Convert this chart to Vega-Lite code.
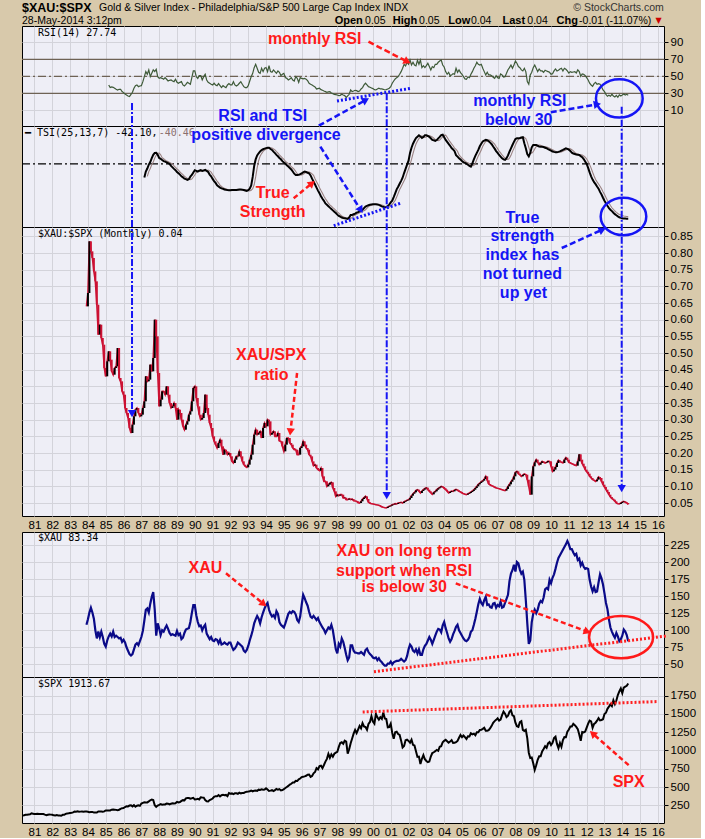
{
"$schema":"https://vega.github.io/schema/vega-lite/v6.json",
"background":"#D8C9AB",
"padding":{"left":18,"top":0,"right":4,"bottom":0},
"autosize":{"type":"pad"},
"spacing":0,
"bounds":"flush",
"resolve":{"scale":{"x":"independent","y":"independent"}},
"config":{"view":{"stroke":"#000000","fill":"#EEEEF6"},"axis":{"gridColor":"#D3D3DA","labelFont":"Liberation Sans","labelFontSize":11.5,"labelColor":"#000000","tickColor":"#000000","domain":false},"text":{"font":"Liberation Sans"}},
"datasets":{"d":[
{"m":4,"s":111},{"m":5,"s":114},{"m":6,"s":122},{"m":7,"s":122},{"m":8,"s":125},{"m":9,"s":127},{"m":10,"s":141},{"m":11,"s":136},
{"m":12,"s":130},{"m":13,"s":131},{"m":14,"s":136},{"m":15,"s":133},{"m":16,"s":133},{"m":17,"s":131},{"m":18,"s":131},{"m":19,"s":123},{"m":20,"s":116},{"m":21,"s":122},{"m":22,"s":126},{"m":23,"s":123},
{"m":24,"s":120},{"m":25,"s":113},{"m":26,"s":112},{"m":27,"s":116},{"m":28,"s":112},{"m":29,"s":110},{"m":30,"s":107},{"m":31,"s":120},{"m":32,"s":120},{"m":33,"s":134},{"m":34,"s":139},{"m":35,"s":141},
{"m":36,"s":145},{"m":37,"s":148},{"m":38,"s":153},{"m":39,"s":164},{"m":40,"s":162},{"m":41,"s":168},{"m":42,"s":163},{"m":43,"s":164},{"m":44,"s":166},{"m":45,"s":164},{"m":46,"s":166},
{"m":47,"s":165,"x":108,"r":0.64},{"m":48,"s":163,"x":116,"r":0.68},{"m":49,"s":157,"x":126,"r":0.835},{"m":50,"s":159,"x":133,"r":0.805},{"m":51,"s":160,"x":126,"r":0.785},{"m":52,"s":151,"x":117,"r":0.745},{"m":53,"s":153,"x":100,"r":0.715},{"m":54,"s":151,"x":88,"r":0.645},{"m":55,"s":167,"x":98,"r":0.555},{"m":56,"s":166,"x":90,"r":0.585},{"m":57,"s":166,"x":98,"r":0.545},{"m":58,"s":163,"x":90,"r":0.525},{"m":59,"s":167,"x":80,"r":0.455},{"m":60,"s":180,"x":76,"r":0.43},{"m":61,"s":181,"x":85,"r":0.475},
{"m":62,"s":181,"x":91,"r":0.505,"i":39.8},{"m":63,"s":180,"x":95,"r":0.48,"i":36.7},{"m":64,"s":190,"x":91,"r":0.445,"i":37.5},{"m":65,"s":192,"x":98,"r":0.435,"i":37},{"m":66,"s":191,"x":90,"r":0.455,"i":35.9},{"m":67,"s":188,"x":92,"r":0.46,"i":34.7},{"m":68,"s":182,"x":90,"r":0.515,"i":33.9},{"m":69,"s":190,"x":88,"r":0.425,"i":34.7},{"m":70,"s":202,"x":89,"r":0.415,"i":34.7},{"m":71,"s":211,"x":83,"r":0.385,"i":32},{"m":72,"s":212,"x":86,"r":0.375,"i":30.8},{"m":73,"s":227,"x":82,"r":0.335,"i":29.2},{"m":74,"s":238,"x":75,"r":0.32,"i":28},{"m":75,"s":235,"x":70,"r":0.305,"i":26.9},{"m":76,"s":247,"x":65,"r":0.275,"i":26.1},{"m":77,"s":251,"x":63,"r":0.26,"i":28.8},{"m":78,"s":236,"x":65,"r":0.285,"i":31.2},{"m":79,"s":253,"x":72,"r":0.31,"i":35.9},{"m":80,"s":231,"x":79,"r":0.33,"i":39},{"m":81,"s":244,"x":81,"r":0.335,"i":39.8},{"m":82,"s":249,"x":78,"r":0.32,"i":37.8},{"m":83,"s":242,"x":84,"r":0.31,"i":38.6},{"m":84,"s":274,"x":90,"r":0.315,"i":39},{"m":85,"s":284,"x":99,"r":0.335,"i":43.7},
{"m":86,"s":292,"x":114,"r":0.355,"i":49.6,"t":-10.5},{"m":87,"s":288,"x":130,"r":0.43,"i":55.5,"t":-5.9},
{"m":88,"s":290,"x":132,"r":0.415,"i":52.4,"t":-3.5,"g":-9.5},{"m":89,"s":304,"x":126,"r":0.42,"i":57.5,"t":-0.5,"g":-5.9},{"m":90,"s":319,"x":139,"r":0.465,"i":49.6,"t":1.5,"g":-3.5},{"m":91,"s":330,"x":149,"r":0.445,"i":53.5,"t":4.5,"g":-0.5},{"m":92,"s":322,"x":156,"r":0.485,"i":57.5,"t":7,"g":1.5},{"m":93,"s":252,"x":130,"r":0.6,"i":55.5,"t":8.5,"g":4.5},{"m":94,"s":230,"x":92,"r":0.55,"i":58.2,"t":8.6,"g":6.8},{"m":95,"s":247,"x":110,"r":0.44,"i":49.6,"t":7,"g":8.2},
{"m":96,"s":257,"x":103,"r":0.34,"i":47.6,"t":4.6,"g":8.4},{"m":97,"s":268,"x":93,"r":0.36,"i":48.4,"t":4,"g":7},{"m":98,"s":259,"x":100,"r":0.385,"i":47.6,"t":3,"g":4.8},{"m":99,"s":261,"x":98,"r":0.385,"i":46.5,"t":2.2,"g":4},{"m":100,"s":262,"x":103,"r":0.375,"i":48.4,"t":1.8,"g":3},{"m":101,"s":274,"x":107,"r":0.4,"i":46.5,"t":1.2,"g":2.2},{"m":102,"s":272,"x":102,"r":0.375,"i":44.5,"t":0.6,"g":1.8},{"m":103,"s":262,"x":96,"r":0.35,"i":45.3,"t":0,"g":1.2},{"m":104,"s":272,"x":93,"r":0.335,"i":45.7,"t":-1.5,"g":0.6},{"m":105,"s":279,"x":94,"r":0.34,"i":44.5,"t":-2.6,"g":0},{"m":106,"s":274,"x":93,"r":0.35,"i":43.7,"t":-3.8,"g":-1.5},{"m":107,"s":278,"x":92,"r":0.335,"i":46.5,"t":-4.8,"g":-2.6},
{"m":108,"s":297,"x":99,"r":0.3,"i":42.9,"t":-6.2,"g":-3.8},{"m":109,"s":289,"x":93,"r":0.33,"i":41.8,"t":-7.2,"g":-4.8},{"m":110,"s":295,"x":95,"r":0.32,"i":42.9,"t":-8.2,"g":-6.2},{"m":111,"s":310,"x":87,"r":0.3,"i":43.7,"t":-9.5,"g":-7.2},{"m":112,"s":321,"x":89,"r":0.28,"i":39.8,"t":-10.3,"g":-8.2},{"m":113,"s":318,"x":96,"r":0.27,"i":38.6,"t":-11.3,"g":-9.5},{"m":114,"s":346,"x":101,"r":0.285,"i":40.6,"t":-11.7,"g":-10.3},{"m":115,"s":351,"x":102,"r":0.295,"i":42.9,"t":-12.2,"g":-11.2},{"m":116,"s":349,"x":103,"r":0.315,"i":41.8,"t":-11.8,"g":-11.6},{"m":117,"s":340,"x":112,"r":0.325,"i":40.6,"t":-9.8,"g":-12},{"m":118,"s":346,"x":125,"r":0.355,"i":48.4,"t":-8.5,"g":-11.6},{"m":119,"s":353,"x":137,"r":0.395,"i":56.3,"t":-6.5,"g":-10},
{"m":120,"s":329,"x":137,"r":0.4,"i":56.3,"t":-4.8,"g":-8.5},{"m":121,"s":332,"x":122,"r":0.365,"i":49.6,"t":-5.3,"g":-6.5},{"m":122,"s":340,"x":112,"r":0.34,"i":47.6,"t":-5.9,"g":-5.1},{"m":123,"s":331,"x":106,"r":0.315,"i":50.8,"t":-5.2,"g":-5.3},{"m":124,"s":361,"x":107,"r":0.3,"i":50.8,"t":-4.7,"g":-5.7},{"m":125,"s":358,"x":100,"r":0.305,"i":45.7,"t":-5.3,"g":-5.2},{"m":126,"s":356,"x":105,"r":0.32,"i":49.6,"t":-5,"g":-4.8},{"m":127,"s":323,"x":108,"r":0.375,"i":52.4,"t":-4.6,"g":-5.2},{"m":128,"s":306,"x":95,"r":0.335,"i":45.7,"t":-5.3,"g":-5},{"m":129,"s":304,"x":91,"r":0.315,"i":42.9,"t":-6.2,"g":-4.7},{"m":130,"s":322,"x":87,"r":0.29,"i":41.8,"t":-8.2,"g":-5.3},{"m":131,"s":330,"x":90,"r":0.275,"i":40.6,"t":-9.5,"g":-6.2},
{"m":132,"s":344,"x":85,"r":0.25,"i":39.8,"t":-11.5,"g":-8.2},{"m":133,"s":367,"x":84,"r":0.235,"i":41.8,"t":-13.2,"g":-9.5},{"m":134,"s":375,"x":87,"r":0.225,"i":39.8,"t":-14.6,"g":-11.5},{"m":135,"s":375,"x":86,"r":0.215,"i":39,"t":-16.4,"g":-13.2},{"m":136,"s":390,"x":81,"r":0.23,"i":41.4,"t":-17.3,"g":-14.6},{"m":137,"s":371,"x":86,"r":0.24,"i":39,"t":-18.2,"g":-16.4},{"m":138,"s":388,"x":79,"r":0.22,"i":36.7,"t":-18.8,"g":-17.3},{"m":139,"s":395,"x":80,"r":0.195,"i":39,"t":-19.1,"g":-18.2},{"m":140,"s":388,"x":82,"r":0.21,"i":37.8,"t":-19.6,"g":-18.8},{"m":141,"s":392,"x":80,"r":0.205,"i":36.7,"t":-19.9,"g":-19.1},{"m":142,"s":375,"x":79,"r":0.195,"i":39.8,"t":-20.1,"g":-19.6},{"m":143,"s":417,"x":82,"r":0.2,"i":41.4,"t":-20.2,"g":-19.9},
{"m":144,"s":409,"x":82,"r":0.19,"i":39.8,"t":-20.3,"g":-20.1},{"m":145,"s":413,"x":76,"r":0.175,"i":39.8,"t":-20.1,"g":-20.2},{"m":146,"s":404,"x":71,"r":0.17,"i":43.7,"t":-20,"g":-20.3},{"m":147,"s":415,"x":73,"r":0.18,"i":39.8,"t":-20,"g":-20.1},{"m":148,"s":415,"x":77,"r":0.19,"i":38.6,"t":-20,"g":-20},{"m":149,"s":408,"x":82,"r":0.19,"i":39.8,"t":-19.8,"g":-20},{"m":150,"s":424,"x":80,"r":0.205,"i":41.8,"t":-19.6,"g":-20},{"m":151,"s":414,"x":78,"r":0.19,"i":43.7,"t":-19.6,"g":-19.8},{"m":152,"s":418,"x":76,"r":0.175,"i":40.6,"t":-19.8,"g":-19.6},{"m":153,"s":419,"x":70,"r":0.165,"i":37.8,"t":-20,"g":-19.6},{"m":154,"s":431,"x":68,"r":0.16,"i":36.7,"t":-20.4,"g":-19.8},{"m":155,"s":436,"x":71,"r":0.157,"i":36.7,"t":-20.8,"g":-20},
{"m":156,"s":439,"x":77,"r":0.165,"i":39,"t":-20.2,"g":-20.4},{"m":157,"s":443,"x":85,"r":0.18,"i":44.5,"t":-19,"g":-20.8},{"m":158,"s":452,"x":92,"r":0.195,"i":49.6,"t":-16.5,"g":-20.2},{"m":159,"s":440,"x":100,"r":0.225,"i":53.5,"t":-10,"g":-19},{"m":160,"s":450,"x":110,"r":0.255,"i":60.2,"t":-1.5,"g":-16},{"m":161,"s":451,"x":116,"r":0.27,"i":64.1,"t":3.5,"g":-10},{"m":162,"s":448,"x":121,"r":0.255,"i":59.4,"t":6.5,"g":-3},{"m":163,"s":464,"x":117,"r":0.26,"i":54.7,"t":8.2,"g":2.5},{"m":164,"s":459,"x":110,"r":0.265,"i":53.5,"t":9.6,"g":6},{"m":165,"s":468,"x":119,"r":0.245,"i":59.4,"t":10.7,"g":8},{"m":166,"s":462,"x":126,"r":0.275,"i":55.5,"t":11.3,"g":9.6},{"m":167,"s":466,"x":132,"r":0.29,"i":59.4,"t":11.8,"g":10.7},
{"m":168,"s":482,"x":137,"r":0.28,"i":60.2,"t":12.2,"g":11.3},{"m":169,"s":467,"x":140,"r":0.3,"i":55.5,"t":12.5,"g":11.8},{"m":170,"s":446,"x":130,"r":0.295,"i":62.5,"t":12.4,"g":12.2},{"m":171,"s":451,"x":124,"r":0.255,"i":55.5,"t":11.5,"g":12.4},{"m":172,"s":457,"x":120,"r":0.26,"i":54.7,"t":10.8,"g":12.2},{"m":173,"s":444,"x":122,"r":0.265,"i":57.5,"t":9.5,"g":11.5},{"m":174,"s":458,"x":118,"r":0.25,"i":55.5,"t":8.3,"g":10.8},{"m":175,"s":475,"x":128,"r":0.25,"i":53.5,"t":7,"g":9.5},{"m":176,"s":463,"x":124,"r":0.26,"i":56.3,"t":5.9,"g":8.3},{"m":177,"s":472,"x":112,"r":0.236,"i":54.7,"t":4.6,"g":7},{"m":178,"s":454,"x":108,"r":0.235,"i":50.8,"t":3.6,"g":5.9},{"m":179,"s":459,"x":106,"r":0.22,"i":52.4,"t":2.2,"g":4.6},
{"m":180,"s":470,"x":104,"r":0.205,"i":53.5,"t":1.1,"g":3.6},{"m":181,"s":487,"x":110,"r":0.225,"i":48.4,"t":0.3,"g":2.2},{"m":182,"s":501,"x":117,"r":0.245,"i":47.6,"t":-1,"g":1.1},{"m":183,"s":515,"x":124,"r":0.245,"i":45.7,"t":-2,"g":0.3},{"m":184,"s":533,"x":127,"r":0.23,"i":46.9,"t":-3.1,"g":-1},{"m":185,"s":545,"x":125,"r":0.225,"i":48.4,"t":-4.2,"g":-2},{"m":186,"s":562,"x":128,"r":0.215,"i":45.7,"t":-5.8,"g":-3.1},{"m":187,"s":562,"x":127,"r":0.21,"i":44.5,"t":-7.5,"g":-4.2},{"m":188,"s":584,"x":123,"r":0.21,"i":49.6,"t":-8.5,"g":-5.8},{"m":189,"s":582,"x":115,"r":0.195,"i":47.6,"t":-8.5,"g":-7.5},{"m":190,"s":605,"x":112,"r":0.195,"i":42.9,"t":-8.4,"g":-8.3},{"m":191,"s":616,"x":120,"r":0.215,"i":48.4,"t":-7.9,"g":-8.5},
{"m":192,"s":636,"x":137,"r":0.22,"i":47.6,"t":-7.2,"g":-8.4},{"m":193,"s":641,"x":152,"r":0.235,"i":46.9,"t":-6.4,"g":-7.9},{"m":194,"s":646,"x":147,"r":0.225,"i":47.6,"t":-5.9,"g":-7.2},{"m":195,"s":654,"x":141,"r":0.215,"i":46.5,"t":-6.2,"g":-6.4},{"m":196,"s":669,"x":136,"r":0.21,"i":44.9,"t":-6.8,"g":-6},{"m":197,"s":671,"x":127,"r":0.195,"i":41.8,"t":-7.2,"g":-6.2},{"m":198,"s":640,"x":120,"r":0.19,"i":40.6,"t":-8.8,"g":-6.8},{"m":199,"s":652,"x":118,"r":0.175,"i":39.8,"t":-11.3,"g":-7.6},{"m":200,"s":687,"x":121,"r":0.162,"i":38.6,"t":-13.6,"g":-8.8},{"m":201,"s":705,"x":118,"r":0.165,"i":37.5,"t":-15.8,"g":-11.3},{"m":202,"s":757,"x":115,"r":0.155,"i":35.1,"t":-18.2,"g":-13.6},{"m":203,"s":741,"x":118,"r":0.15,"i":35.5,"t":-20.5,"g":-15.8},
{"m":204,"s":786,"x":112,"r":0.147,"i":35.9,"t":-22.6,"g":-18.2},{"m":205,"s":791,"x":108,"r":0.155,"i":34.3,"t":-24.8,"g":-20.5},{"m":206,"s":757,"x":104,"r":0.13,"i":33.5,"t":-26.8,"g":-22.6},{"m":207,"s":801,"x":101,"r":0.115,"i":32.7,"t":-28.4,"g":-24.8},{"m":208,"s":848,"x":96,"r":0.115,"i":32,"t":-30.4,"g":-26.8},{"m":209,"s":885,"x":100,"r":0.1,"i":31.2,"t":-31.4,"g":-28.4},{"m":210,"s":954,"x":104,"r":0.105,"i":31.6,"t":-32.5,"g":-30.2},{"m":211,"s":899,"x":102,"r":0.11,"i":32,"t":-33.6,"g":-31.4},{"m":212,"s":947,"x":108,"r":0.112,"i":30.4,"t":-34.6,"g":-32.5},{"m":213,"s":915,"x":100,"r":0.095,"i":29.6,"t":-35.7,"g":-33.6},{"m":214,"s":955,"x":86,"r":0.085,"i":28.8,"t":-36.8,"g":-34.6},{"m":215,"s":970,"x":72,"r":0.07,"i":28.4,"t":-37.8,"g":-35.7},
{"m":216,"s":980,"x":66,"r":0.075,"i":28,"t":-39,"g":-36.8},{"m":217,"s":1049,"x":80,"r":0.072,"i":27.3,"t":-40,"g":-37.8},{"m":218,"s":1102,"x":76,"r":0.075,"i":27.6,"t":-40.6,"g":-39},{"m":219,"s":1112,"x":88,"r":0.075,"i":28.8,"t":-41.2,"g":-40},{"m":220,"s":1091,"x":83,"r":0.065,"i":28,"t":-41.5,"g":-40.6},{"m":221,"s":1134,"x":74,"r":0.066,"i":27.3,"t":-41.7,"g":-41.2},{"m":222,"s":1121,"x":64,"r":0.06,"i":24.9,"t":-42,"g":-41.5},{"m":223,"s":957,"x":56,"r":0.06,"i":26.9,"t":-42.2,"g":-41.7},{"m":224,"s":1017,"x":60,"r":0.063,"i":28.8,"t":-41.2,"g":-42},{"m":225,"s":1099,"x":78,"r":0.06,"i":33.9,"t":-39.2,"g":-41.9},{"m":226,"s":1164,"x":78,"r":0.062,"i":32,"t":-39.2,"g":-41.2},{"m":227,"s":1229,"x":70,"r":0.057,"i":32.7,"t":-38.7,"g":-39.8},
{"m":228,"s":1280,"x":67,"r":0.056,"i":33.5,"t":-38.2,"g":-39.2},{"m":229,"s":1238,"x":67,"r":0.055,"i":33.1,"t":-37.5,"g":-38.7},{"m":230,"s":1286,"x":66,"r":0.051,"i":32,"t":-37,"g":-38.2},{"m":231,"s":1335,"x":66,"r":0.05,"i":32.7,"t":-36.4,"g":-37.5},{"m":232,"s":1302,"x":68,"r":0.055,"i":35.1,"t":-36,"g":-37},{"m":233,"s":1373,"x":66,"r":0.062,"i":36.7,"t":-35.2,"g":-36.4},{"m":234,"s":1329,"x":64,"r":0.066,"i":39.8,"t":-34,"g":-36},{"m":235,"s":1320,"x":71,"r":0.07,"i":41.8,"t":-32.8,"g":-35.2},{"m":236,"s":1283,"x":73,"r":0.062,"i":39.8,"t":-32.2,"g":-34},{"m":237,"s":1363,"x":68,"r":0.052,"i":37.8,"t":-31.7,"g":-32.8},{"m":238,"s":1389,"x":65,"r":0.049,"i":37.1,"t":-31.4,"g":-32.2},{"m":239,"s":1469,"x":63,"r":0.048,"i":36.3,"t":-31.1,"g":-31.7},
{"m":240,"s":1394,"x":60,"r":0.047,"i":35.5,"t":-31,"g":-31.4},{"m":241,"s":1366,"x":59,"r":0.046,"i":34.3,"t":-31,"g":-31.1},{"m":242,"s":1499,"x":60,"r":0.045,"i":33.9,"t":-31,"g":-31},{"m":243,"s":1452,"x":56,"r":0.044,"i":35.1,"t":-31.2,"g":-31},{"m":244,"s":1421,"x":59,"r":0.043,"i":35.9,"t":-31.5,"g":-31},{"m":245,"s":1455,"x":55,"r":0.041,"i":35.1,"t":-32,"g":-31.2},{"m":246,"s":1431,"x":53,"r":0.038,"i":35.1,"t":-32.6,"g":-31.5},{"m":247,"s":1518,"x":50,"r":0.037,"i":34.7,"t":-33,"g":-32},{"m":248,"s":1437,"x":48,"r":0.036,"i":33.9,"t":-33.4,"g":-32.6},{"m":249,"s":1429,"x":48,"r":0.035,"i":34.3,"t":-33.2,"g":-33},{"m":250,"s":1315,"x":51,"r":0.038,"i":35.1,"t":-32.3,"g":-33.3},{"m":251,"s":1320,"x":51,"r":0.04,"i":35.9,"t":-31.3,"g":-33.2},
{"m":252,"s":1366,"x":54,"r":0.042,"i":37.8,"t":-29.6,"g":-32.3},{"m":253,"s":1240,"x":50,"r":0.045,"i":41.8,"t":-28.2,"g":-31.3},{"m":254,"s":1160,"x":53,"r":0.046,"i":44.5,"t":-25.5,"g":-29.6},{"m":255,"s":1249,"x":54,"r":0.048,"i":46.9,"t":-22.6,"g":-28},{"m":256,"s":1256,"x":55,"r":0.047,"i":48.4,"t":-19.5,"g":-25.5},{"m":257,"s":1224,"x":55,"r":0.05,"i":49.6,"t":-17.5,"g":-22.6},{"m":258,"s":1211,"x":56,"r":0.051,"i":52.4,"t":-15.2,"g":-19.7},{"m":259,"s":1134,"x":58,"r":0.052,"i":55.5,"t":-13,"g":-17.5},{"m":260,"s":1041,"x":56,"r":0.05,"i":59.4,"t":-10.6,"g":-15.2},{"m":261,"s":1060,"x":54,"r":0.054,"i":64.1,"t":-7,"g":-13},{"m":262,"s":1139,"x":56,"r":0.056,"i":62.2,"t":-3.8,"g":-10.6},{"m":263,"s":1148,"x":62,"r":0.058,"i":66.5,"t":-0.5,"g":-7},
{"m":264,"s":1130,"x":72,"r":0.06,"i":64.1,"t":2.5,"g":-3.8},{"m":265,"s":1107,"x":79,"r":0.065,"i":69.2,"t":8.5,"g":-0.5},{"m":266,"s":1147,"x":76,"r":0.072,"i":63.3,"t":12.5,"g":3.5},{"m":267,"s":1077,"x":70,"r":0.078,"i":66.5,"t":15.6,"g":8},{"m":268,"s":1067,"x":68,"r":0.082,"i":63.3,"t":17.8,"g":12},{"m":269,"s":990,"x":72,"r":0.088,"i":62.2,"t":19.9,"g":15.3},{"m":270,"s":912,"x":66,"r":0.09,"i":68.8,"t":21,"g":17.6},{"m":271,"s":916,"x":72,"r":0.085,"i":64.1,"t":22.1,"g":19.5},{"m":272,"s":815,"x":64,"r":0.08,"i":69.2,"t":21.2,"g":20.8},{"m":273,"s":886,"x":64,"r":0.086,"i":60.2,"t":20,"g":21.6},{"m":274,"s":936,"x":72,"r":0.09,"i":62.5,"t":20.8,"g":21.2},{"m":275,"s":880,"x":77,"r":0.094,"i":60.2,"t":22,"g":20.4},
{"m":276,"s":856,"x":80,"r":0.096,"i":62.5,"t":22,"g":20.8},{"m":277,"s":841,"x":85,"r":0.09,"i":65.3,"t":21.5,"g":21.6},{"m":278,"s":848,"x":90,"r":0.085,"i":61.4,"t":20.8,"g":21.8},{"m":279,"s":917,"x":86,"r":0.08,"i":57.5,"t":19.8,"g":21.4},{"m":280,"s":964,"x":80,"r":0.076,"i":61.4,"t":18.5,"g":20.8},{"m":281,"s":975,"x":86,"r":0.082,"i":60.2,"t":18.2,"g":19.8},{"m":282,"s":990,"x":92,"r":0.085,"i":64.1,"t":17.8,"g":18.7},{"m":283,"s":1008,"x":98,"r":0.09,"i":64.1,"t":18.4,"g":18.2},{"m":284,"s":996,"x":102,"r":0.094,"i":66.5,"t":19.7,"g":18},{"m":285,"s":1051,"x":101,"r":0.097,"i":68,"t":20.8,"g":18.4},{"m":286,"s":1058,"x":97,"r":0.1,"i":69.2,"t":22.2,"g":19.6},{"m":287,"s":1112,"x":107,"r":0.098,"i":63.3,"t":22.5,"g":20.8},
{"m":288,"s":1131,"x":112,"r":0.094,"i":61,"t":20.5,"g":22},{"m":289,"s":1145,"x":103,"r":0.09,"i":55.5,"t":18.5,"g":22.2},{"m":290,"s":1126,"x":96,"r":0.085,"i":52.4,"t":17,"g":20.6},{"m":291,"s":1107,"x":88,"r":0.08,"i":54.7,"t":15.4,"g":18.6},{"m":292,"s":1121,"x":83,"r":0.083,"i":50.8,"t":14,"g":17},{"m":293,"s":1141,"x":87,"r":0.086,"i":51.6,"t":12.2,"g":15.4},{"m":294,"s":1102,"x":94,"r":0.085,"i":53.1,"t":11.2,"g":14},{"m":295,"s":1104,"x":99,"r":0.089,"i":52.4,"t":9.8,"g":12.2},{"m":296,"s":1115,"x":105,"r":0.091,"i":59.4,"t":6.8,"g":11.2},{"m":297,"s":1130,"x":108,"r":0.088,"i":54.7,"t":5.6,"g":9.8},{"m":298,"s":1174,"x":100,"r":0.085,"i":57.5,"t":4.4,"g":7},{"m":299,"s":1212,"x":96,"r":0.083,"i":54.3,"t":3.4,"g":5.6},
{"m":300,"s":1181,"x":92,"r":0.08,"i":52.4,"t":2.3,"g":4.4},{"m":301,"s":1204,"x":88,"r":0.078,"i":49.6,"t":1.3,"g":3.4},{"m":302,"s":1181,"x":85,"r":0.076,"i":46.9,"t":0.9,"g":2.3},{"m":303,"s":1157,"x":84,"r":0.075,"i":46.5,"t":0.2,"g":1.3},{"m":304,"s":1192,"x":86,"r":0.078,"i":49.2,"t":-0.6,"g":0.9},{"m":305,"s":1191,"x":90,"r":0.08,"i":48.4,"t":-1.4,"g":0.2},{"m":306,"s":1234,"x":98,"r":0.083,"i":52.4,"t":-2,"g":-0.6},{"m":307,"s":1220,"x":100,"r":0.086,"i":55.5,"t":0.5,"g":-1.4},{"m":308,"s":1229,"x":108,"r":0.09,"i":59.4,"t":3.5,"g":-1.2},{"m":309,"s":1207,"x":117,"r":0.095,"i":62.5,"t":6.2,"g":0.5},{"m":310,"s":1249,"x":127,"r":0.1,"i":66.5,"t":8.5,"g":3.5},{"m":311,"s":1248,"x":138,"r":0.106,"i":64.1,"t":10.8,"g":6.2},
{"m":312,"s":1280,"x":146,"r":0.11,"i":63.3,"t":13.6,"g":8.5},{"m":313,"s":1281,"x":140,"r":0.114,"i":64.1,"t":15.6,"g":10.8},{"m":314,"s":1295,"x":137,"r":0.117,"i":59.4,"t":17.3,"g":13.6},{"m":315,"s":1311,"x":144,"r":0.122,"i":55.5,"t":18,"g":15.6},{"m":316,"s":1270,"x":149,"r":0.13,"i":51.6,"t":18.5,"g":17.3},{"m":317,"s":1270,"x":137,"r":0.118,"i":54.7,"t":18.2,"g":18},{"m":318,"s":1277,"x":138,"r":0.107,"i":51.6,"t":17.5,"g":18.5},{"m":319,"s":1304,"x":134,"r":0.104,"i":51.6,"t":16.4,"g":18.2},{"m":320,"s":1336,"x":133,"r":0.102,"i":50.8,"t":15.2,"g":17.5},{"m":321,"s":1378,"x":139,"r":0.1,"i":48.8,"t":13.4,"g":16.4},{"m":322,"s":1401,"x":140,"r":0.097,"i":47.6,"t":11.8,"g":15.2},{"m":323,"s":1418,"x":133,"r":0.095,"i":50.8,"t":9.9,"g":13.4},
{"m":324,"s":1438,"x":137,"r":0.094,"i":48.4,"t":8.5,"g":11.8},{"m":325,"s":1407,"x":135,"r":0.093,"i":47.6,"t":6.9,"g":9.9},{"m":326,"s":1421,"x":142,"r":0.091,"i":52.7,"t":5.6,"g":8.5},{"m":327,"s":1482,"x":133,"r":0.09,"i":51.6,"t":4.3,"g":6.9},{"m":328,"s":1531,"x":134,"r":0.088,"i":49.2,"t":3.5,"g":5.6},{"m":329,"s":1503,"x":140,"r":0.087,"i":49.6,"t":3.2,"g":4.3},{"m":330,"s":1455,"x":146,"r":0.092,"i":53.5,"t":4.5,"g":3.5},{"m":331,"s":1474,"x":152,"r":0.1,"i":57.8,"t":6.6,"g":3.4},{"m":332,"s":1527,"x":172,"r":0.106,"i":60.2,"t":9.5,"g":4.5},{"m":333,"s":1549,"x":183,"r":0.114,"i":63.3,"t":12,"g":6.6},{"m":334,"s":1481,"x":188,"r":0.12,"i":59.4,"t":14.6,"g":9.5},{"m":335,"s":1468,"x":196,"r":0.13,"i":63.3,"t":17,"g":12},
{"m":336,"s":1379,"x":186,"r":0.142,"i":68,"t":19.2,"g":14.6},{"m":337,"s":1331,"x":200,"r":0.145,"i":65.3,"t":19.7,"g":17},{"m":338,"s":1323,"x":198,"r":0.138,"i":61.4,"t":19.7,"g":18.8},{"m":339,"s":1386,"x":189,"r":0.134,"i":60.2,"t":20,"g":19.5},{"m":340,"s":1400,"x":183,"r":0.13,"i":57.5,"t":20.4,"g":19.7},{"m":341,"s":1280,"x":186,"r":0.134,"i":56.3,"t":20.6,"g":20},{"m":342,"s":1267,"x":174,"r":0.137,"i":59.4,"t":15.9,"g":20.4},{"m":343,"s":1283,"x":144,"r":0.135,"i":55.5,"t":12.1,"g":19.5},{"m":344,"s":1166,"x":110,"r":0.12,"i":43.7,"t":7.5,"g":16.8},{"m":345,"s":969,"x":80,"r":0.1,"i":40.6,"t":5.8,"g":12.8},{"m":346,"s":896,"x":85,"r":0.075,"i":51.6,"t":8.5,"g":9.5},{"m":347,"s":903,"x":112,"r":0.13,"i":54.7,"t":12.8,"g":8.2},
{"m":348,"s":826,"x":124,"r":0.16,"i":60.2,"t":14.6,"g":9.4},{"m":349,"s":735,"x":130,"r":0.172,"i":63.3,"t":14.6,"g":11.5},{"m":350,"s":798,"x":125,"r":0.18,"i":59.4,"t":14.6,"g":13.4},{"m":351,"s":873,"x":130,"r":0.172,"i":55.5,"t":14,"g":14.4},{"m":352,"s":919,"x":139,"r":0.165,"i":58.6,"t":13.4,"g":14.6},{"m":353,"s":919,"x":143,"r":0.17,"i":56.3,"t":13.3,"g":14.3},{"m":354,"s":987,"x":141,"r":0.175,"i":56.3,"t":13.3,"g":13.8},{"m":355,"s":1021,"x":148,"r":0.172,"i":54.7,"t":13,"g":13.4},{"m":356,"s":1057,"x":160,"r":0.17,"i":57.1,"t":12.4,"g":13.3},{"m":357,"s":1036,"x":162,"r":0.172,"i":56.3,"t":12.1,"g":13},{"m":358,"s":1096,"x":160,"r":0.176,"i":55.5,"t":11.4,"g":12.6},{"m":359,"s":1115,"x":174,"r":0.175,"i":54.7,"t":10.8,"g":12.1},
{"m":360,"s":1074,"x":169,"r":0.16,"i":52.4,"t":10.2,"g":11.5},{"m":361,"s":1104,"x":177,"r":0.145,"i":53.1,"t":9.6,"g":10.9},{"m":362,"s":1169,"x":182,"r":0.15,"i":56.3,"t":9.3,"g":10.3},{"m":363,"s":1187,"x":190,"r":0.158,"i":58.6,"t":9.1,"g":9.7},{"m":364,"s":1089,"x":199,"r":0.17,"i":56.3,"t":9.1,"g":9.4},{"m":365,"s":1031,"x":206,"r":0.178,"i":57.1,"t":9.3,"g":9.2},{"m":366,"s":1102,"x":210,"r":0.174,"i":58.6,"t":9.7,"g":9.2},{"m":367,"s":1049,"x":214,"r":0.172,"i":59.4,"t":10.3,"g":9.3},{"m":368,"s":1141,"x":218,"r":0.17,"i":56.3,"t":10.8,"g":9.7},{"m":369,"s":1183,"x":222,"r":0.18,"i":59.4,"t":11.4,"g":10.3},{"m":370,"s":1181,"x":226,"r":0.186,"i":58.2,"t":12,"g":10.8},{"m":371,"s":1258,"x":231,"r":0.18,"i":56.3,"t":11.6,"g":11.4},
{"m":372,"s":1286,"x":226,"r":0.172,"i":53.9,"t":11,"g":11.8},{"m":373,"s":1327,"x":219,"r":0.17,"i":55.5,"t":10,"g":11.6},{"m":374,"s":1326,"x":219,"r":0.168,"i":54.7,"t":8.7,"g":11},{"m":375,"s":1364,"x":214,"r":0.166,"i":55.1,"t":8,"g":10},{"m":376,"s":1345,"x":210,"r":0.163,"i":55.5,"t":7.7,"g":8.9},{"m":377,"s":1321,"x":212,"r":0.162,"i":53.9,"t":7.3,"g":8.1},{"m":378,"s":1292,"x":203,"r":0.175,"i":57.5,"t":7.1,"g":7.7},{"m":379,"s":1219,"x":205,"r":0.196,"i":55.5,"t":6.9,"g":7.3},{"m":380,"s":1131,"x":195,"r":0.18,"i":50,"t":6,"g":7.1},{"m":381,"s":1253,"x":199,"r":0.168,"i":52.7,"t":5.2,"g":6.8},{"m":382,"s":1247,"x":193,"r":0.16,"i":52.4,"t":3.8,"g":6.1},{"m":383,"s":1258,"x":190,"r":0.15,"i":50.8,"t":1.9,"g":5.2},
{"m":384,"s":1312,"x":191,"r":0.144,"i":48.4,"t":0,"g":3.8},{"m":385,"s":1366,"x":190,"r":0.138,"i":45.7,"t":-3,"g":1.9},{"m":386,"s":1408,"x":174,"r":0.13,"i":41.8,"t":-6.5,"g":-0.5},{"m":387,"s":1398,"x":164,"r":0.125,"i":39.8,"t":-9.5,"g":-3.2},{"m":388,"s":1310,"x":157,"r":0.12,"i":38.2,"t":-12,"g":-6.4},{"m":389,"s":1362,"x":163,"r":0.118,"i":41.4,"t":-14,"g":-9.3},{"m":390,"s":1379,"x":156,"r":0.115,"i":42.9,"t":-15.5,"g":-11.9},{"m":391,"s":1407,"x":157,"r":0.12,"i":40.6,"t":-17.3,"g":-13.8},{"m":392,"s":1441,"x":170,"r":0.128,"i":41.4,"t":-19,"g":-15.4},{"m":393,"s":1412,"x":182,"r":0.125,"i":40.6,"t":-21.5,"g":-17.2},{"m":394,"s":1416,"x":176,"r":0.115,"i":37.8,"t":-23.5,"g":-19},{"m":395,"s":1426,"x":167,"r":0.105,"i":33.9,"t":-26,"g":-21.3},
{"m":396,"s":1498,"x":154,"r":0.098,"i":32,"t":-28.3,"g":-23.4},{"m":397,"s":1515,"x":140,"r":0.09,"i":28.8,"t":-30.3,"g":-25.8},{"m":398,"s":1569,"x":131,"r":0.083,"i":26.5,"t":-32.2,"g":-28.1},{"m":399,"s":1598,"x":116,"r":0.075,"i":27.6,"t":-34,"g":-30.1},{"m":400,"s":1631,"x":104,"r":0.068,"i":26.5,"t":-35.2,"g":-32},{"m":401,"s":1606,"x":98,"r":0.063,"i":28.8,"t":-36.3,"g":-33.7},{"m":402,"s":1686,"x":93,"r":0.06,"i":26.9,"t":-37.5,"g":-35},{"m":403,"s":1633,"x":89,"r":0.055,"i":25.7,"t":-38.6,"g":-36.2},{"m":404,"s":1682,"x":96,"r":0.05,"i":27.6,"t":-39.5,"g":-37.2},{"m":405,"s":1757,"x":91,"r":0.048,"i":25.3,"t":-40.3,"g":-38.1},{"m":406,"s":1806,"x":84,"r":0.047,"i":28.2,"t":-41,"g":-38.8},{"m":407,"s":1848,"x":87,"r":0.05,"i":26.9,"t":-41.5,"g":-39.3},
{"m":408,"s":1783,"x":92,"r":0.053,"i":28,"t":-41.8,"g":-39.7},{"m":409,"s":1859,"x":101,"r":0.055,"i":29.2,"t":-41.9,"g":-40},{"m":410,"s":1872,"x":98,"r":0.052,"i":28,"t":-42,"g":-40.2},{"m":411,"s":1884,"x":93,"r":0.05,"i":28.8,"t":-42.1,"g":-40.4},{"m":412,"s":1914,"x":84,"r":0.046,"i":27.7,"t":-42.1,"g":-40.5}
]},
"vconcat":[
{"width":642,"height":26,"view":{"stroke":null,"fill":null},
 "encoding":{"x":{"field":"m","type":"quantitative","scale":{"domain":[3.58,436.1],"nice":false,"zero":false},"axis":null},
  "y":{"field":"v","type":"quantitative","scale":{"domain":[0,26],"reverse":true,"nice":false,"zero":false},"axis":null},
  "text":{"field":"txt"}},
 "layer":[
  {"data":{"values":[{"m":3.6,"v":7.5,"txt":"$XAU:$SPX"}]},"mark":{"type":"text","align":"left","baseline":"middle","fontSize":12.5,"fontWeight":"bold","color":"#000"}},
  {"data":{"values":[{"m":55.5,"v":8,"txt":"Gold & Silver Index - Philadelphia/S&P 500 Large Cap Index  INDX"},{"m":3.6,"v":20.5,"txt":"28-May-2014 3:12pm"},{"m":234.7,"v":20.5,"txt":"0.05"},{"m":271.1,"v":20.5,"txt":"0.05"},{"m":306,"v":20.5,"txt":"0.04"},{"m":344,"v":20.5,"txt":"0.04"},{"m":378.9,"v":20.5,"txt":"-0.01 (-11.07%)"}]},"mark":{"type":"text","align":"left","baseline":"middle","fontSize":10.5,"color":"#000"}},
  {"data":{"values":[{"m":214.2,"v":20.5,"txt":"Open"},{"m":253.4,"v":20.5,"txt":"High"},{"m":290.8,"v":20.5,"txt":"Low"},{"m":327.3,"v":20.5,"txt":"Last"},{"m":363.7,"v":20.5,"txt":"Chg"}]},"mark":{"type":"text","align":"left","baseline":"middle","fontSize":11,"fontWeight":"bold","color":"#000"}},
  {"data":{"values":[{"m":436,"v":8,"txt":"© StockCharts.com"}]},"mark":{"type":"text","align":"right","baseline":"middle","fontSize":10.5,"color":"#333"}},
  {"data":{"values":[{"m":432.5,"v":20.5,"txt":"▼"}]},"mark":{"type":"text","align":"center","baseline":"middle","fontSize":8,"color":"#CC0000","font":"DejaVu Sans"}}
 ]},
{"width":642,"height":100,
 "encoding":{"x":{"field":"m","type":"quantitative","scale":{"domain":[3.58,436.1],"nice":false,"zero":false},"axis":{"values":[12,24,36,48,60,72,84,96,108,120,132,144,156,168,180,192,204,216,228,240,252,264,276,288,300,312,324,336,348,360,372,384,396,408,420,432],"labels":false,"ticks":false,"title":null}},
  "y":{"field":"i","type":"quantitative","scale":{"domain":[-8.5,109.2],"nice":false,"zero":false},"axis":{"orient":"right","values":[10,30,50,70,90],"title":null,"tickSize":4,"labelPadding":2}}},
 "layer":[
  {"data":{"values":[{"m":3.58,"m2":436.1,"i":70,"i2":70},{"m":3.58,"m2":436.1,"i":30,"i2":30}]},"mark":{"type":"rule","color":"#6E6254","strokeWidth":1.3},"encoding":{"x2":{"field":"m2"},"y2":{"field":"i2"}}},
  {"data":{"values":[{"m":3.58,"m2":436.1,"i":50,"i2":50}]},"mark":{"type":"rule","color":"#6E6254","strokeWidth":1.2,"strokeDash":[8,3,2,3]},"encoding":{"x2":{"field":"m2"},"y2":{"field":"i2"}}},
  {"data":{"name":"d"},"transform":[{"filter":"isValid(datum.i)"}],"mark":{"type":"line","color":"#3E5A38","strokeWidth":1.2}},
  {"data":{"values":[{"m":14.4,"i":100.9,"txt":"RSI(14) 27.74"}]},"mark":{"type":"text","align":"left","baseline":"middle","font":"DejaVu Sans Mono","fontSize":10,"color":"#000"},"encoding":{"text":{"field":"txt"}}},
  {"data":{"values":[{"m":215.8,"i":20.9,"m2":265.5,"i2":35.9}]},"mark":{"type":"rule","color":"#1515F5","strokeWidth":3,"strokeDash":[2,2]},"encoding":{"x2":{"field":"m2"},"y2":{"field":"i2"}}},
  {"data":{"values":[{"m":203.5,"i":-8.1,"m2":235.2,"i2":22.1},{"m":359.8,"i":7.6,"m2":391.2,"i2":17.1}]},"mark":{"type":"rule","color":"#1515F5","strokeWidth":2.5,"strokeDash":[6,3]},"encoding":{"x2":{"field":"m2"},"y2":{"field":"i2"}}},
  {"data":{"values":[{"m":235.2,"i":22.1,"a":61.3},{"m":391.2,"i":17.1,"a":80.3}]},"mark":{"type":"point","shape":"triangle-up","filled":true,"color":"#1515F5","size":70,"opacity":1},"encoding":{"angle":{"field":"a","type":"quantitative","scale":null}}},
  {"data":{"values":[{"m":237,"i":90.7,"m2":263.2,"i2":67.2}]},"mark":{"type":"rule","color":"#FF1A1A","strokeWidth":2.5,"strokeDash":[6,3]},"encoding":{"x2":{"field":"m2"},"y2":{"field":"i2"}}},
  {"data":{"values":[{"m":263.2,"i":67.2,"a":117.3}]},"mark":{"type":"point","shape":"triangle-up","filled":true,"color":"#FF1A1A","size":70,"opacity":1},"encoding":{"angle":{"field":"a","type":"quantitative","scale":null}}},
  {"data":{"values":[{"m":200.8,"i":93.9,"txt":"monthly RSI"}]},"mark":{"type":"text","align":"center","baseline":"middle","fontSize":16,"fontWeight":"bold","color":"#FF1A1A"},"encoding":{"text":{"field":"txt"}}},
  {"data":{"values":[{"m":165.8,"i":3.3,"txt":"RSI and TSI"},{"m":339,"i":20.9,"txt":"monthly RSI"}]},"mark":{"type":"text","align":"center","baseline":"middle","fontSize":16,"fontWeight":"bold","color":"#1515F5"},"encoding":{"text":{"field":"txt"}}},
  {"data":{"values":[{"m":406,"i":24}]},"mark":{"type":"point","shape":"M-1,0A1,0.82,0,1,0,1,0A1,0.82,0,1,0,-1,0Z","filled":false,"color":"#1515F5","strokeWidth":2.5,"size":2181,"opacity":1}}
 ]},
{"width":642,"height":101,
 "encoding":{"x":{"field":"m","type":"quantitative","scale":{"domain":[3.58,436.1],"nice":false,"zero":false},"axis":{"values":[12,24,36,48,60,72,84,96,108,120,132,144,156,168,180,192,204,216,228,240,252,264,276,288,300,312,324,336,348,360,372,384,396,408,420,432],"labels":false,"ticks":false,"title":null}},
  "y":{"field":"t","type":"quantitative","scale":{"domain":[-48.5,29.2],"nice":false,"zero":false},"axis":{"orient":"right","values":[-40,-20,0,20],"title":null,"tickSize":4,"labelPadding":2}}},
 "layer":[
  {"data":{"values":[{"m":3.58,"m2":436.1,"t":0,"t2":0}]},"mark":{"type":"rule","color":"#000","strokeWidth":1.2,"strokeDash":[8,3,2,3]},"encoding":{"x2":{"field":"m2"},"y2":{"field":"t2"}}},
  {"data":{"name":"d"},"transform":[{"filter":"isValid(datum.g)"}],"mark":{"type":"line","color":"#9A8282","strokeWidth":1.1},"encoding":{"y":{"field":"g","type":"quantitative","scale":{"domain":[-48.5,29.2],"nice":false,"zero":false},"axis":null}}},
  {"data":{"name":"d"},"transform":[{"filter":"isValid(datum.t)"}],"mark":{"type":"line","color":"#000","strokeWidth":2}},
  {"data":{"values":[{"m":5.6,"t":23.6,"txt":"━ TSI(25,13,7) -42.10,"}]},"mark":{"type":"text","align":"left","baseline":"middle","font":"DejaVu Sans Mono","fontSize":10,"color":"#000"},"encoding":{"text":{"field":"txt"}}},
  {"data":{"values":[{"m":95.7,"t":23.6,"txt":"-40.46"}]},"mark":{"type":"text","align":"left","baseline":"middle","font":"DejaVu Sans Mono","fontSize":10,"color":"#8A6E6E"},"encoding":{"text":{"field":"txt"}}},
  {"data":{"values":[{"m":213.6,"t":-47.5,"m2":258.7,"t2":-30.2}]},"mark":{"type":"rule","color":"#1515F5","strokeWidth":3,"strokeDash":[2,2]},"encoding":{"x2":{"field":"m2"},"y2":{"field":"t2"}}},
  {"data":{"values":[{"m":204.6,"t":13.3,"m2":231.8,"t2":-35.4}]},"mark":{"type":"rule","color":"#1515F5","strokeWidth":2.5,"strokeDash":[6,3]},"encoding":{"x2":{"field":"m2"},"y2":{"field":"t2"}}},
  {"data":{"values":[{"m":231.8,"t":-35.4,"a":147.5}]},"mark":{"type":"point","shape":"triangle-up","filled":true,"color":"#1515F5","size":70,"opacity":1},"encoding":{"angle":{"field":"a","type":"quantitative","scale":null}}},
  {"data":{"values":[{"m":186.6,"t":-26.4,"m2":199,"t2":-14.8}]},"mark":{"type":"rule","color":"#FF1A1A","strokeWidth":2.5,"strokeDash":[5,3]},"encoding":{"x2":{"field":"m2"},"y2":{"field":"t2"}}},
  {"data":{"values":[{"m":199,"t":-14.8,"a":50.7}]},"mark":{"type":"point","shape":"triangle-up","filled":true,"color":"#FF1A1A","size":70,"opacity":1},"encoding":{"angle":{"field":"a","type":"quantitative","scale":null}}},
  {"data":{"values":[{"m":172.5,"t":-22.5,"txt":"True"},{"m":172.5,"t":-37.2,"txt":"Strength"}]},"mark":{"type":"text","align":"center","baseline":"middle","fontSize":16,"fontWeight":"bold","color":"#FF1A1A"},"encoding":{"text":{"field":"txt"}}},
  {"data":{"values":[{"m":168,"t":22.3,"txt":"positive divergence"},{"m":338.2,"t":33.8,"txt":"below 30"},{"m":340.7,"t":-41.3,"txt":"True"}]},"mark":{"type":"text","align":"center","baseline":"middle","fontSize":16,"fontWeight":"bold","color":"#1515F5"},"encoding":{"text":{"field":"txt"}}}
 ]},
{"width":642,"height":289,
 "encoding":{"x":{"field":"m","type":"quantitative","scale":{"domain":[3.58,436.1],"nice":false,"zero":false},"axis":{"values":[12,24,36,48,60,72,84,96,108,120,132,144,156,168,180,192,204,216,228,240,252,264,276,288,300,312,324,336,348,360,372,384,396,408,420,432],"labelExpr":"slice(toString(1980+datum.value/12),2)","ticks":false,"labelPadding":3,"labelFlush":false,"labelOverlap":false,"title":null}},
  "y":{"field":"r","type":"quantitative","scale":{"domain":[0.011,0.878],"nice":false,"zero":false},"axis":{"orient":"right","values":[0.05,0.1,0.15,0.2,0.25,0.3,0.35,0.4,0.45,0.5,0.55,0.6,0.65,0.7,0.75,0.8,0.85],"format":".2f","title":null,"tickSize":4,"labelPadding":2}}},
 "layer":[
  {"data":{"name":"d"},"transform":[{"filter":"isValid(datum.r)"}],"mark":{"type":"line","color":"#CC1133","strokeWidth":1.6}},
  {"data":{"name":"d"},"transform":[{"filter":"isValid(datum.r)"},{"window":[{"op":"lag","field":"r","as":"rp"}],"sort":[{"field":"m","order":"ascending"}]},{"filter":"isValid(datum.rp)"}],"mark":{"type":"rule","strokeWidth":2},"encoding":{"y2":{"field":"rp"},"color":{"condition":{"test":"datum.r >= datum.rp","value":"#000000"},"value":"#CC1133"}}},
  {"data":{"values":[{"m":14.4,"r":0.857,"txt":"$XAU:$SPX (Monthly) 0.04"}]},"mark":{"type":"text","align":"left","baseline":"middle","font":"DejaVu Sans Mono","fontSize":10,"color":"#000"},"encoding":{"text":{"field":"txt"}}},
  {"data":{"values":[{"m":77.7,"r":1.25,"m2":77.7,"r2":0.325},{"m":249.3,"r":1.279,"m2":249.3,"r2":0.08},{"m":407.6,"r":1.239,"m2":407.6,"r2":0.1}]},"mark":{"type":"rule","color":"#1515F5","strokeWidth":2,"strokeDash":[7,2,2,2]},"encoding":{"x2":{"field":"m2"},"y2":{"field":"r2"}}},
  {"data":{"values":[{"m":367.2,"r":0.815,"m2":394.6,"r2":0.87}]},"mark":{"type":"rule","color":"#1515F5","strokeWidth":2.5,"strokeDash":[6,3]},"encoding":{"x2":{"field":"m2"},"y2":{"field":"r2"}}},
  {"data":{"values":[{"m":77.7,"r":0.318,"a":180},{"m":249.3,"r":0.072,"a":180},{"m":407.6,"r":0.093,"a":180},{"m":394.6,"r":0.87,"a":65.7}]},"mark":{"type":"point","shape":"triangle-up","filled":true,"color":"#1515F5","size":70,"opacity":1},"encoding":{"angle":{"field":"a","type":"quantitative","scale":null}}},
  {"data":{"values":[{"m":408.8,"r":0.9095}]},"mark":{"type":"point","shape":"M-1,0A1,0.82,0,1,0,1,0A1,0.82,0,1,0,-1,0Z","filled":false,"color":"#1515F5","strokeWidth":2.5,"size":2079,"opacity":1}},
  {"data":{"values":[{"m":340.7,"r":0.85,"txt":"strength"},{"m":340.7,"r":0.793,"txt":"index has"},{"m":340.7,"r":0.737,"txt":"not turned"},{"m":341.4,"r":0.68,"txt":"up yet"}]},"mark":{"type":"text","align":"center","baseline":"middle","fontSize":16,"fontWeight":"bold","color":"#1515F5"},"encoding":{"text":{"field":"txt"}}},
  {"data":{"values":[{"m":171.5,"r":0.493,"txt":"XAU/SPX"},{"m":171.5,"r":0.435,"txt":"ratio"}]},"mark":{"type":"text","align":"center","baseline":"middle","fontSize":16,"fontWeight":"bold","color":"#FF1A1A"},"encoding":{"text":{"field":"txt"}}},
  {"data":{"values":[{"m":188.9,"r":0.44,"m2":184.4,"r2":0.263}]},"mark":{"type":"rule","color":"#FF1A1A","strokeWidth":2.5,"strokeDash":[5,3]},"encoding":{"x2":{"field":"m2"},"y2":{"field":"r2"}}},
  {"data":{"values":[{"m":184.4,"r":0.263,"a":186.5}]},"mark":{"type":"point","shape":"triangle-up","filled":true,"color":"#FF1A1A","size":70,"opacity":1},"encoding":{"angle":{"field":"a","type":"quantitative","scale":null}}}
 ]},
{"width":642,"height":16,"view":{"stroke":null,"fill":null},"data":{"values":[{"m":100}]},"mark":{"type":"point","opacity":0},"encoding":{"x":{"field":"m","type":"quantitative","scale":{"domain":[3.58,436.1]},"axis":null}}},
{"width":642,"height":145,
 "encoding":{"x":{"field":"m","type":"quantitative","scale":{"domain":[3.58,436.1],"nice":false,"zero":false},"axis":{"values":[12,24,36,48,60,72,84,96,108,120,132,144,156,168,180,192,204,216,228,240,252,264,276,288,300,312,324,336,348,360,372,384,396,408,420,432],"labels":false,"ticks":false,"title":null}},
  "y":{"field":"x","type":"quantitative","scale":{"domain":[31.4,244.1],"nice":false,"zero":false},"axis":{"orient":"right","values":[50,75,100,125,150,175,200,225],"title":null,"tickSize":4,"labelPadding":2}}},
 "layer":[
  {"data":{"name":"d"},"transform":[{"filter":"isValid(datum.x)"}],"mark":{"type":"line","color":"#0A0A88","strokeWidth":2.2}},
  {"data":{"values":[{"m":14.4,"x":234.8,"txt":"$XAU 83.34"}]},"mark":{"type":"text","align":"left","baseline":"middle","font":"DejaVu Sans Mono","fontSize":10,"color":"#000"},"encoding":{"text":{"field":"txt"}}},
  {"data":{"values":[{"m":240.7,"x":39.2,"m2":438.2,"x2":91.6}]},"mark":{"type":"rule","color":"#FF2020","strokeWidth":3,"strokeDash":[2,2]},"encoding":{"x2":{"field":"m2"},"y2":{"field":"x2"}}},
  {"data":{"values":[{"m":407.2,"x":89.8}]},"mark":{"type":"point","shape":"M-1,0A1,0.66,0,1,0,1,0A1,0.66,0,1,0,-1,0Z","filled":false,"color":"#FF1A1A","strokeWidth":2.5,"size":4096,"opacity":1}},
  {"data":{"values":[{"m":127.1,"x":190.8,"txt":"XAU"},{"m":261,"x":216.2,"txt":"XAU on long term"},{"m":261,"x":186.9,"txt":"support when RSI"},{"m":261,"x":163,"txt":"is below 30"}]},"mark":{"type":"text","align":"center","baseline":"middle","fontSize":16,"fontWeight":"bold","color":"#FF1A1A"},"encoding":{"text":{"field":"txt"}}},
  {"data":{"values":[{"m":141,"x":183.5,"m2":166.4,"x2":138.5},{"m":295.8,"x":168.8,"m2":384.5,"x2":97.9}]},"mark":{"type":"rule","color":"#FF1A1A","strokeWidth":2.5,"strokeDash":[5,3]},"encoding":{"x2":{"field":"m2"},"y2":{"field":"x2"}}},
  {"data":{"values":[{"m":166.4,"x":138.5,"a":129.2},{"m":384.5,"x":97.9,"a":110.2}]},"mark":{"type":"point","shape":"triangle-up","filled":true,"color":"#FF1A1A","size":70,"opacity":1},"encoding":{"angle":{"field":"a","type":"quantitative","scale":null}}}
 ]},
{"width":642,"height":146,
 "encoding":{"x":{"field":"m","type":"quantitative","scale":{"domain":[3.58,436.1],"nice":false,"zero":false},"axis":{"values":[12,24,36,48,60,72,84,96,108,120,132,144,156,168,180,192,204,216,228,240,252,264,276,288,300,312,324,336,348,360,372,384,396,408,420,432],"labelExpr":"slice(toString(1980+datum.value/12),2)","ticks":false,"labelPadding":3,"labelFlush":false,"labelOverlap":false,"title":null}},
  "y":{"field":"s","type":"quantitative","scale":{"domain":[8.6,2003.6],"nice":false,"zero":false},"axis":{"orient":"right","values":[250,500,750,1000,1250,1500,1750],"format":"d","title":null,"tickSize":4,"labelPadding":2}}},
 "layer":[
  {"data":{"name":"d"},"transform":[{"filter":"isValid(datum.s)"}],"mark":{"type":"line","color":"#000","strokeWidth":2}},
  {"data":{"values":[{"m":14.4,"s":1904,"txt":"$SPX 1913.67"}]},"mark":{"type":"text","align":"left","baseline":"middle","font":"DejaVu Sans Mono","fontSize":10,"color":"#000"},"encoding":{"text":{"field":"txt"}}},
  {"data":{"values":[{"m":233.1,"s":1526,"m2":432.1,"s2":1668}]},"mark":{"type":"rule","color":"#FF2020","strokeWidth":3,"strokeDash":[2,2]},"encoding":{"x2":{"field":"m2"},"y2":{"field":"s2"}}},
  {"data":{"values":[{"m":412.3,"s":572,"txt":"SPX"}]},"mark":{"type":"text","align":"center","baseline":"middle","fontSize":16,"fontWeight":"bold","color":"#FF1A1A"},"encoding":{"text":{"field":"txt"}}},
  {"data":{"values":[{"m":412.3,"s":799,"m2":388,"s2":1232}]},"mark":{"type":"rule","color":"#FF1A1A","strokeWidth":2.5,"strokeDash":[5,3]},"encoding":{"x2":{"field":"m2"},"y2":{"field":"s2"}}},
  {"data":{"values":[{"m":388,"s":1232,"a":311.3}]},"mark":{"type":"point","shape":"triangle-up","filled":true,"color":"#FF1A1A","size":70,"opacity":1},"encoding":{"angle":{"field":"a","type":"quantitative","scale":null}}}
 ]}
]
}
